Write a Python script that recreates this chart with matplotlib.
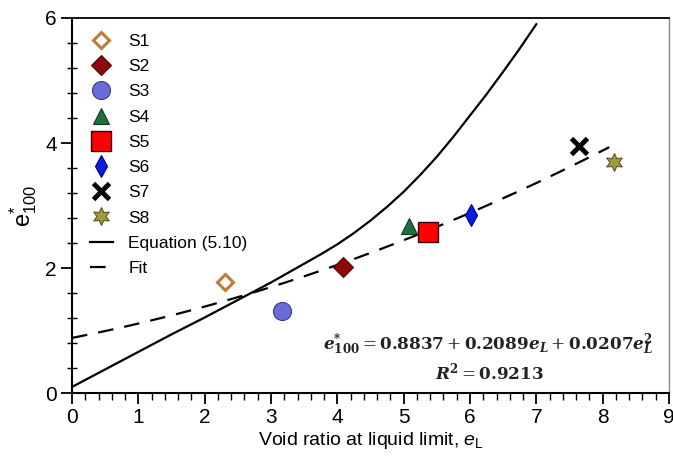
import numpy as np
import matplotlib
matplotlib.use("Agg")
import matplotlib.pyplot as plt
from matplotlib.ticker import MultipleLocator

plt.rcParams['font.family'] = 'Liberation Sans'
plt.rcParams['mathtext.fontset'] = 'custom'
plt.rcParams['mathtext.rm'] = 'Liberation Sans'
plt.rcParams['mathtext.it'] = 'Liberation Sans:italic'

# soil samples (e_L, e*_100)
labels = ['S1', 'S2', 'S3', 'S4', 'S5', 'S6', 'S7', 'S8']
eL = [2.31, 4.08, 3.16, 5.08, 5.36, 6.02, 7.64, 8.17]
e100 = [1.77, 2.01, 1.32, 2.67, 2.57, 2.85, 3.95, 3.70]

# Equation (5.10)
eq_x = [0, 0.5, 1.0, 1.5, 2.0, 2.5, 3.0, 3.25, 3.5, 3.75, 4.0, 4.25, 4.5, 4.75, 5.0,
        5.25, 5.5, 5.75, 6.0, 6.25, 6.5, 6.75, 7.0]
eq_y = [0.10, 0.38, 0.66, 0.94, 1.21, 1.49, 1.77, 1.92, 2.07, 2.22, 2.38, 2.56, 2.76, 2.98, 3.22,
        3.49, 3.78, 4.10, 4.44, 4.78, 5.14, 5.51, 5.90]

# quadratic fit coefficients (from the equation on the chart)
fit_coef = [0.8837, 0.2089, 0.0207]
fit_range = [0, 8.1]

# marker styles per sample
styles = [
    dict(marker='D', ms=8, mfc='white', mec='#c07a3a', mew=2.2),
    dict(marker='D', ms=10, mfc='#8b0a0a', mec='#5a0000', mew=0.8),
    dict(marker='o', ms=13, mfc='#6b6bd6', mec='#3a3a90', mew=0.8),
    dict(marker='^', ms=11, mfc='#1f6e42', mec='#0f3a20', mew=0.8),
    dict(marker='s', ms=14, mfc='#ff0000', mec='#300000', mew=1.0),
    dict(marker='d', ms=11, mfc='#0a1ee0', mec='#000080', mew=0.8),
    dict(marker='x', ms=11, mfc='black', mec='black', mew=3.5),
    dict(marker=(6, 1, 0), ms=13, mfc='#9e9a3e', mec='#5a5820', mew=0.8),
]

fig = plt.figure(figsize=(6.73, 4.72), dpi=100)
ax = fig.add_axes([0.107, 0.167, 0.887, 0.795])

for lab, x, y, st in zip(labels, eL, e100, styles):
    ax.plot([x], [y], ls='none', label=lab, zorder=4, **st)

ax.plot(eq_x, eq_y, color='black', lw=1.6, label='Equation (5.10)', zorder=3)

xf = np.linspace(fit_range[0], fit_range[1], 200)
yf = fit_coef[0] + fit_coef[1] * xf + fit_coef[2] * xf ** 2
ax.plot(xf, yf, color='black', lw=1.6, dashes=(7, 5), label='Fit', zorder=3)

eq_txt = (r'$\boldsymbol{e}^{\mathbf{*}}_{\mathbf{100}} = \mathbf{0.8837} + '
          r'\mathbf{0.2089}\boldsymbol{e}_{\boldsymbol{L}} + '
          r'\mathbf{0.0207}\boldsymbol{e}_{\boldsymbol{L}}^{\mathbf{2}}$')
ax.text(6.27, 0.77, eq_txt, math_fontfamily='dejavuserif', fontsize=12.2,
        ha='center', va='center', color='#222222')
ax.text(6.3, 0.34, r'$\boldsymbol{R}^{\mathbf{2}} = \mathbf{0.9213}$',
        math_fontfamily='dejavuserif', fontsize=12.2, ha='center', va='center', color='#222222')

ax.set_xlim(0, 9)
ax.set_ylim(0, 6)
ax.xaxis.set_major_locator(MultipleLocator(1))
ax.xaxis.set_minor_locator(MultipleLocator(0.2))
ax.yaxis.set_major_locator(MultipleLocator(2))
ax.yaxis.set_minor_locator(MultipleLocator(0.4))
ax.tick_params(axis='both', which='major', direction='out', length=8, width=1.3, labelsize=15, pad=3)
ax.tick_params(axis='x', which='minor', direction='out', length=5, width=1.0)
ax.tick_params(axis='y', which='minor', direction='inout', length=7, width=1.0)

ax.set_xlabel(r'Void ratio at liquid limit, $\mathit{e}_{\mathrm{L}}$', fontsize=14, labelpad=2)
ax.set_ylabel(r'$\mathrm{e}^{*}_{100}$', fontsize=17, labelpad=4)

for s in ['left', 'bottom']:
    ax.spines[s].set_linewidth(1.5)
ax.spines['top'].set_linewidth(1.3)
ax.spines['right'].set_color('#888888')
ax.spines['right'].set_linewidth(1.0)

leg = ax.legend(loc='upper left', frameon=False, fontsize=12.5, handlelength=1.3,
                handletextpad=0.9, labelspacing=0.58, borderaxespad=0.3,
                bbox_to_anchor=(0.01, 0.99))

fig.savefig('out.png', dpi=100)
